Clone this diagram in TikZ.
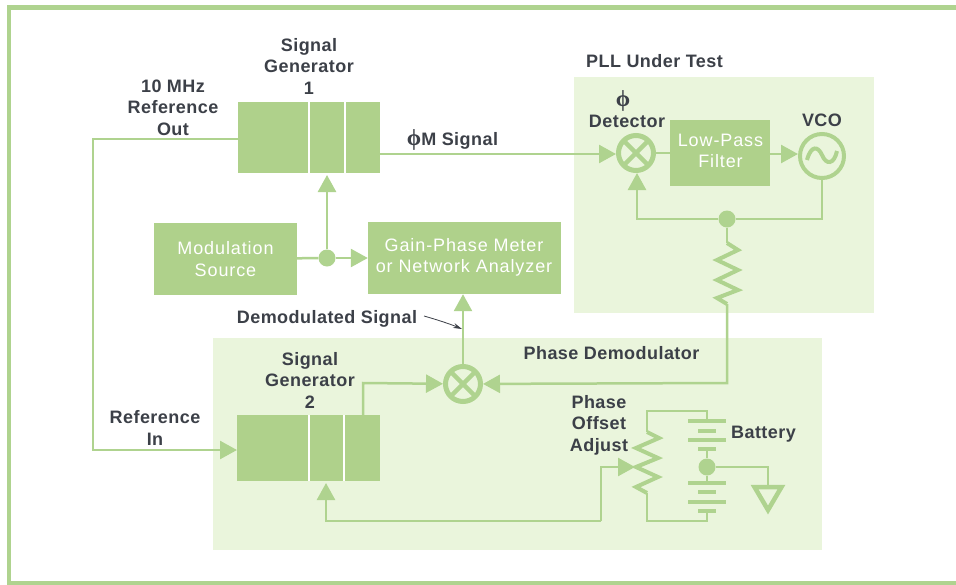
\documentclass[tikz,border=0pt]{standalone}
\usepackage{fontspec}
\setmainfont[LetterSpace=2.5]{Liberation Sans}
\newfontfamily\boxfont[LetterSpace=5]{Liberation Sans}
\newfontfamily\phifont{Liberation Serif}
\usetikzlibrary{arrows.meta}
\definecolor{linegreen}{HTML}{AFD38F}
\definecolor{boxgreen}{HTML}{AFD18B}
\definecolor{panelgreen}{HTML}{EAF5DC}
\definecolor{inkgrey}{HTML}{3C4048}
\newcommand{\phisign}{{\phifont\fontsize{23}{21.5}\selectfont ϕ}}
\tikzset{
  wire/.style={draw=linegreen, line width=2.5pt},
  feed/.style={wire, -{Triangle[width=18pt, length=17pt]}},
  block/.style={fill=boxgreen, inner sep=0pt, align=center, text=white,
    font=\boxfont\fontsize{18}{21.5}\selectfont},
  divider/.style={draw=white, line width=2pt},
  mixer/.style={circle, draw=linegreen, line width=5pt, minimum size=35pt, inner sep=0pt,
    path picture={
      \draw[linegreen, line width=4.5pt] (path picture bounding box.north west) -- (path picture bounding box.south east);
      \draw[linegreen, line width=4.5pt] (path picture bounding box.south west) -- (path picture bounding box.north east);
    }},
  dotjoin/.style={circle, fill=linegreen, minimum size=17pt, inner sep=0pt},
  plate/.style={draw=linegreen, line width=4pt},
  caption/.style={text=inkgrey, inner sep=0pt, align=center,
    font=\bfseries\fontsize{18}{21.5}\selectfont},
}
\begin{document}
\begin{tikzpicture}[x=1pt, y=-1pt]
    \useasboundingbox (0,0) rectangle (956,584);
    % panels and frame
    \fill[white] (0,0) rectangle (956,584);
    \fill[panelgreen] (574,77) rectangle (874,313);
    \fill[panelgreen] (213,338) rectangle (822,550);
    \draw[linegreen, line width=5pt] (7,7) -- (956,7);
    \draw[linegreen, line width=4pt] (9,7) -- (9,582.5);
    \draw[linegreen, line width=4pt] (7,582.5) -- (956,582.5);

    % blocks
    \node[block, minimum width=142pt, minimum height=71pt] (siggenA) at (309,137.5) {};
    \node[block, minimum width=143pt, minimum height=66pt] (siggenB) at (308.5,448) {};
    \node[block, minimum width=143pt, minimum height=72pt] (modsource) at (225.5,259) {Modulation\\Source};
    \node[block, minimum width=193pt, minimum height=72pt] (meter) at (464.5,258) {};
    \node[block, fill=none] (metertext) at (464,257.5) {Gain-Phase Meter\\or Network Analyzer};
    \node[block, minimum width=100pt, minimum height=66pt] (filter) at (720,153) {};
    \node[block, fill=none] (filtertext) at (720.5,151) {Low-Pass\\Filter};
    \draw[divider] (309,102) -- (309,173);
    \draw[divider] (345,102) -- (345,173);
    \draw[divider] (309,415) -- (309,481);
    \draw[divider] (344,415) -- (344,481);

    % mixers, oscillator and joins
    \node[mixer] (detector) at (636,153) {};
    \node[mixer] (demod) at (463,384) {};
    \node[circle, draw=linegreen, line width=4pt, minimum size=44pt, inner sep=0pt] (vco) at (822,156) {};
    \draw[linegreen, line width=4pt] (807,160) .. controls (811,145) and (818,146) .. (822,155) .. controls (826,165) and (834,165) .. (837,151);
    \node[dotjoin] (modjoin) at (327,258) {};
    \node[dotjoin] (loopjoin) at (727,219) {};
    \node[dotjoin] (batjoin) at (707,467) {};

    % free ends of the wires
    \coordinate (refcorner) at (93,139);
    \coordinate (refcornerB) at (93,450);
    \coordinate (sigA) at (238,139);
    \coordinate (sigB) at (237,450);
    \coordinate (phimout) at (380,154);
    \coordinate (phimin) at (616,154);
    \coordinate (modA) at (327,175);
    \coordinate (modB) at (326,483);
    \coordinate (genout) at (363,415);
    \coordinate (genup) at (363,383);
    \coordinate (vcoin) at (798,154);
    \coordinate (filterout) at (770,154);
    \coordinate (detin) at (637,173);
    \coordinate (loopleft) at (637,219);
    \coordinate (loopright) at (822,219);
    \coordinate (vcodown) at (822,178);
    \coordinate (resistin) at (727,304);
    \coordinate (resistout) at (727,243);
    \coordinate (demodcorner) at (727,383);
    \coordinate (trimA) at (326,521);
    \coordinate (trimB) at (601,521);
    \coordinate (trimC) at (601,467);
    \coordinate (wiper) at (635,467);
    \coordinate (pottop) at (647,432);
    \coordinate (potbot) at (647,493);
    \coordinate (gndcorner) at (768,467);
    \coordinate (gndtop) at (768,487);

    % wires
    \draw[feed] (sigA) -- (refcorner) -- (refcornerB) -- (sigB);
    \draw[feed] (phimout) -- (phimin);
    \draw[wire] (detector) -- (filter);
    \draw[feed] (filterout) -- (vcoin);
    \draw[wire] (modsource) -- (modjoin);
    \draw[feed] (modjoin) -- (meter);
    \draw[feed] (modjoin) -- (modA);
    \draw[feed] (loopjoin) -- (loopleft) -- (detin);
    \draw[wire] (loopjoin) -- (loopright) -- (vcodown);
    \draw[wire] (loopjoin) -- (resistout);
    \draw[feed] (resistin) -- (demodcorner) -- (demod);
    \draw[feed] (genout) -- (genup) -- (demod);
    \draw[feed] (demod) -- (meter.south -| demod);
    \draw[feed] (trimB) -- (trimA) -- (modB);
    \draw[feed] (trimB) -- (trimC) -- (wiper);

    % resistors
    \draw[wire, line width=4pt, miter limit=4] (resistout) -- (738,250) -- (717,260) -- (738,270) -- (717,280) -- (738,290) -- (717,298) -- (resistin);
    \draw[wire, line width=4pt, miter limit=4] (pottop) -- (659,438) -- (636,448) -- (658,458) -- (636,467) -- (658,477) -- (636,487) -- (potbot);

    % battery
    \coordinate (topleft) at (647,411);
    \coordinate (topright) at (707,411);
    \coordinate (botleft) at (647,521);
    \coordinate (botright) at (707,521);
    \draw[wire] (pottop) -- (topleft) -- (topright) -- (707,421);
    \draw[wire] (potbot) -- (botleft) -- (botright) -- (707,511);
    \draw[wire] (707,449) -- (batjoin) -- (707,483);
    \draw[plate] (688,421) -- (726,421);
    \draw[plate] (698,431) -- (716,431);
    \draw[plate] (688,440) -- (726,440);
    \draw[plate] (698,449) -- (716,449);
    \draw[plate] (688,483) -- (726,483);
    \draw[plate] (698,492) -- (716,492);
    \draw[plate] (688,502) -- (726,502);
    \draw[plate] (698,511) -- (716,511);

    % ground
    \draw[wire] (batjoin) -- (gndcorner) -- (gndtop);
    \draw[linegreen, line width=4.5pt, line join=miter] (754.5,487) -- (781.5,487) -- (768,510) -- cycle;

    % labels
    \node[caption] (siggenAlabel) at (309,66) {Signal\\Generator\\1};
    \node[caption] (reflabel) at (173,107.5) {10 MHz\\Reference\\Out};
    \node[caption] (phimlabel) at (452.5,140) {\phisign M Signal};
    \node[caption] (pllabel) at (654.5,61) {PLL Under Test};
    \node[caption] (detlabel) at (627,109) {\hspace*{-8pt}\phisign\\Detector};
    \node[caption] (vcolabel) at (822,120) {VCO};
    \node[caption] (demodsiglabel) at (327,318.5) {Demodulated Signal};
    \node[caption] (pdlabel) at (611.5,353.5) {Phase Demodulator};
    \node[caption] (siggenBlabel) at (310,380) {Signal\\Generator\\2};
    \node[caption] (refinlabel) at (155,428) {Reference\\In};
    \node[caption] (offsetlabel) at (599,425) {Phase\\Offset\\Adjust};
    \node[caption] (batlabel) at (763.5,434) {Battery};
    \coordinate (demodtip) at (462,329);
    \draw[inkgrey, line width=0.8pt, -{Stealth[length=9pt, width=5pt]}] (424,316) .. controls (438,320) and (450,324) .. (demodtip);
\end{tikzpicture}
\end{document}
